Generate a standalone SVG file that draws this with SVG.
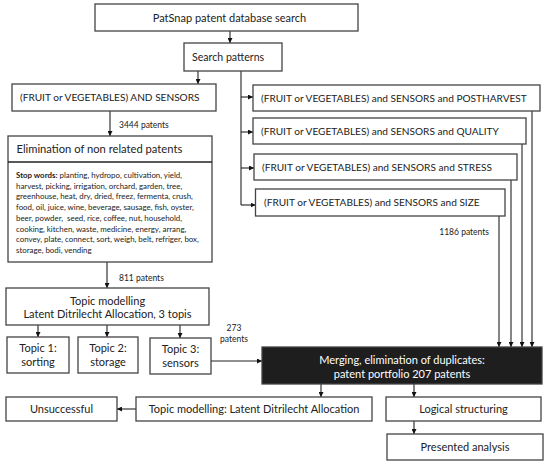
<svg xmlns="http://www.w3.org/2000/svg" width="550" height="469" viewBox="0 0 550 469">
<defs>
<marker id="ah" viewBox="0 0 10 10" refX="10" refY="5" markerWidth="5" markerHeight="5" orient="auto" markerUnits="userSpaceOnUse">
<path d="M0,0 L10,5 L0,10 z" fill="#111"/>
</marker>
<style>
.b{fill:#fff;stroke:#444;stroke-width:1.3}
.dark{fill:#1e1e1e;stroke:#444;stroke-width:1.3}
.t{font-family:Lato,"Liberation Sans",sans-serif;font-size:11px;fill:#222}
.f{font-size:10.1px}
.c{text-anchor:middle}
.s{font-family:Lato,"Liberation Sans",sans-serif;font-size:8.5px;fill:#222}
.sw{font-family:Lato,"Liberation Sans",sans-serif;font-size:7.9px;fill:#222}
.w{fill:#fff}
.ln{fill:none;stroke:#222;stroke-width:1.1}
.ar{fill:none;stroke:#222;stroke-width:1.1;marker-end:url(#ah)}
</style>
</defs>
<rect width="550" height="469" fill="#fff"/>
<g id="connectors">
<line class="ar" x1="230" y1="31" x2="230" y2="43"/>
<line class="ar" x1="198" y1="71" x2="198" y2="84"/>
<line class="ln" x1="241" y1="71" x2="241" y2="205"/>
<line class="ar" x1="241" y1="97" x2="253" y2="97"/>
<line class="ar" x1="241" y1="132" x2="253" y2="132"/>
<line class="ar" x1="241" y1="168" x2="254" y2="168"/>
<line class="ar" x1="241" y1="205" x2="255.5" y2="205"/>
<line class="ar" x1="110" y1="111" x2="110" y2="136"/>
<line class="ar" x1="107" y1="262" x2="107" y2="288"/>
<line class="ar" x1="38" y1="325" x2="38" y2="337"/>
<line class="ar" x1="107" y1="325" x2="107" y2="337"/>
<line class="ar" x1="180" y1="325" x2="180" y2="338"/>
<line class="ar" x1="211" y1="361" x2="262" y2="361"/>
<line class="ar" x1="499" y1="216" x2="499" y2="347"/>
<line class="ar" x1="511" y1="180" x2="511" y2="347"/>
<line class="ar" x1="522" y1="144" x2="522" y2="347"/>
<line class="ar" x1="532" y1="111" x2="532" y2="347"/>
<line class="ar" x1="321" y1="384" x2="321" y2="397"/>
<line class="ar" x1="414" y1="384" x2="414" y2="397"/>
<line class="ar" x1="136" y1="409" x2="117" y2="409"/>
<line class="ar" x1="414" y1="421" x2="414" y2="434"/>
<text class="s" x="119" y="128">3444 patents</text>
<text class="s" x="119" y="281">811 patents</text>
<text class="s c" x="234" y="331">273</text>
<text class="s c" x="234" y="342">patents</text>
<text class="s" x="489" y="235" text-anchor="end">1186 patents</text>
</g>
<g id="patsnap">
<rect class="b" x="95" y="4" width="263" height="27"/>
<text class="t c" x="229.5" y="21.5">PatSnap patent database search</text>
</g>
<g id="search-patterns">
<rect class="b" x="184" y="43" width="98" height="28"/>
<text class="t" x="192" y="61" style="font-size:10.6px">Search patterns</text>
</g>
<g id="fruit-sensors">
<rect class="b" x="12" y="84" width="204" height="27"/>
<text class="t f" x="20" y="101">(FRUIT or VEGETABLES) AND SENSORS</text>
</g>
<g id="postharvest">
<rect class="b" x="253" y="85" width="287" height="26"/>
<text class="t f" x="261" y="102">(FRUIT or VEGETABLES) and SENSORS and POSTHARVEST</text>
</g>
<g id="quality">
<rect class="b" x="253" y="118" width="273" height="26"/>
<text class="t f" x="261" y="135">(FRUIT or VEGETABLES) and SENSORS and QUALITY</text>
</g>
<g id="stress">
<rect class="b" x="254" y="154" width="263" height="26"/>
<text class="t f" x="262" y="171">(FRUIT or VEGETABLES) and SENSORS and STRESS</text>
</g>
<g id="size">
<rect class="b" x="255.5" y="189" width="249.5" height="27"/>
<text class="t f" x="264" y="206">(FRUIT or VEGETABLES) and SENSORS and SIZE</text>
</g>
<g id="elimination">
<rect class="b" x="8" y="136" width="204" height="126"/>
<line x1="8" y1="162" x2="212" y2="162" stroke="#222" stroke-width="1.6"/>
<text class="t" x="16.5" y="152.5" style="font-size:11.2px">Elimination of non related patents</text>
<text class="sw" x="16" y="178"><tspan font-weight="bold">Stop words:</tspan> planting, hydropo, cultivation, yield,</text>
<text class="sw" x="16" y="188.7">harvest, picking, irrigation, orchard, garden, tree,</text>
<text class="sw" x="16" y="199.4">greenhouse, heat, dry, dried, freez, fermenta, crush,</text>
<text class="sw" x="16" y="210.1">food, oil, juice, wine, beverage, sausage, fish, oyster,</text>
<text class="sw" x="16" y="220.8" xml:space="preserve">beer, powder,  seed, rice, coffee, nut, household,</text>
<text class="sw" x="16" y="231.5">cooking, kitchen, waste, medicine, energy, arrang,</text>
<text class="sw" x="16" y="242.2">convey, plate, connect, sort, weigh, belt, refriger, box,</text>
<text class="sw" x="16" y="252.9">storage, bodi, vending</text>
</g>
<g id="topic-modelling">
<rect class="b" x="6" y="288" width="203" height="37"/>
<text class="t c" x="107.5" y="304.5">Topic modelling</text>
<text class="t c" x="107.5" y="318">Latent Ditrilecht Allocation, 3 topis</text>
</g>
<g id="topic1">
<rect class="b" x="7" y="337" width="62" height="36"/>
<text class="t c" x="38" y="352">Topic 1:</text>
<text class="t c" x="38" y="366">sorting</text>
</g>
<g id="topic2">
<rect class="b" x="78" y="337" width="60" height="36"/>
<text class="t c" x="108" y="352">Topic 2:</text>
<text class="t c" x="108" y="366">storage</text>
</g>
<g id="topic3">
<rect class="b" x="150" y="338" width="61" height="36"/>
<text class="t c" x="180.5" y="353">Topic 3:</text>
<text class="t c" x="180.5" y="367">sensors</text>
</g>
<g id="merging">
<rect class="dark" x="262" y="347" width="280" height="37"/>
<text class="t c w" x="402" y="363.5">Merging, elimination of duplicates:</text>
<text class="t c w" x="402" y="377.5">patent portfolio 207 patents</text>
</g>
<g id="unsuccessful">
<rect class="b" x="6" y="397" width="111" height="24"/>
<text class="t c" x="61.5" y="412.5">Unsuccessful</text>
</g>
<g id="tm-lda">
<rect class="b" x="136" y="397" width="236" height="24"/>
<text class="t c" x="254" y="412.5">Topic modelling: Latent Ditrilecht Allocation</text>
</g>
<g id="logical">
<rect class="b" x="386" y="397" width="155" height="24"/>
<text class="t c" x="463.5" y="412.5">Logical structuring</text>
</g>
<g id="presented">
<rect class="b" x="387" y="434" width="156" height="26"/>
<text class="t c" x="465" y="451">Presented analysis</text>
</g>
</svg>
